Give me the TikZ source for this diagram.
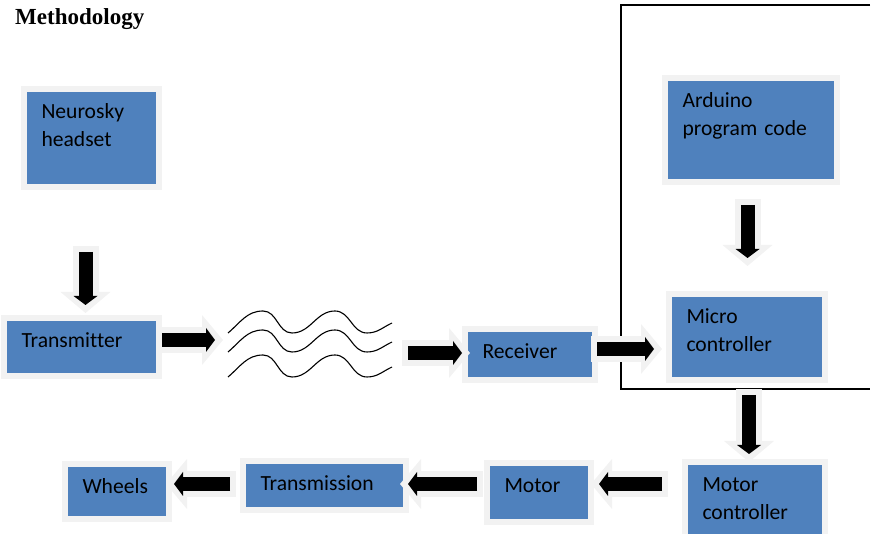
\documentclass[tikz,border=0pt]{standalone}
\usepackage{fontspec}
\setmainfont{Carlito}[Ligatures=CommonOff]
\newfontfamily\headfont{Liberation Serif}
\usetikzlibrary{arrows.meta}

\definecolor{boxblue}{RGB}{79,129,189}
\definecolor{halo}{RGB}{242,242,242}

\tikzset{
  blk/.style={rectangle, fill=boxblue, preaction={draw=halo, line width=12pt},
    anchor=north west, align=left, inner xsep=14.5pt, inner ysep=0pt, outer sep=0pt,
    text height=27pt, font=\fontsize{21.6}{27.5}\selectfont},
  fat/.style={draw=black, line width=14pt, -{Triangle[length=9pt,width=24pt,line width=0pt]},
    preaction={draw=halo, line width=26pt, -{Triangle[length=21pt,width=50pt,line width=0pt]},
      shorten >=-8pt, shorten <=-6pt}},
  wave/.style={draw=black, line width=1.1pt},
  pane/.style={draw=black, line width=1.2pt},
}

\begin{document}
\begin{tikzpicture}[x=1pt,y=1pt]
\path[use as bounding box] (0,0) rectangle (872,534);

\node[anchor=base west, inner sep=0pt, font=\headfont\bfseries\fontsize{23}{27}\selectfont] (title) at (15,509) {Methodology};

% board side, open to the right
\draw[pane] (870,529) -- (621,529) -- (621,145) -- (870,145);

% blocks
\node[blk, text width=100pt, text depth=65pt] (head) at (27,442) {Neurosky\\headset};
\node[blk, text width=120pt, text depth=25pt] (tx) at (7,213) {Transmitter};
\node[blk, text width=95pt, text depth=18pt] (rx) at (468,202) {Receiver};
\node[blk, text width=137pt, text depth=71pt] (ard) at (668,453) {Arduino\\program code};
\node[blk, text width=121pt, text depth=53pt] (mcu) at (672,237) {Micro\\controller};
\node[blk, text width=105pt, text depth=48pt] (mctl) at (688,69) {Motor\\controller};
\node[blk, text width=69pt, text depth=26pt] (motor) at (490,68) {Motor};
\node[blk, text width=128pt, text depth=16pt] (trans) at (246,70) {Transmission};
\node[blk, text width=69pt, text depth=22pt] (wheels) at (68,67) {Wheels};

% radio link
\coordinate (airW) at (215,194);
\coordinate (airE) at (408,181);
\foreach \dy in {0,-19,-44}
  \draw[wave, yshift=\dy pt] (228,201) to[out=40,in=180] (263,223) to[out=0,in=180] (292,201)
    to[out=0,in=180] (335,223) to[out=0,in=180] (367,201) to[out=0,in=205] (392,211);

% block arrows
\draw[fat] ([xshift=-6pt,yshift=-68pt]head.south) -- ([xshift=4pt,yshift=16pt]tx.north);
\draw[fat] ([xshift=-3.5pt,yshift=-26pt]ard.south) -- ([xshift=.5pt,yshift=39pt]mcu.north);
\draw[fat] ([xshift=2pt,yshift=-18pt]mcu.south) -- ([xshift=-6pt,yshift=11pt]mctl.north);
\draw[fat] ([xshift=6pt,yshift=7pt]tx.east) -- (airW);
\draw[fat] (airE) -- ([xshift=-6pt,yshift=1.5pt]rx.west);
\draw[fat] ([xshift=5pt,yshift=5.5pt]rx.east) -- ([xshift=-18pt,yshift=-12pt]mcu.west);
\draw[fat] ([xshift=-26pt,yshift=18.5pt]mctl.west) -- ([xshift=11pt,yshift=8.5pt]motor.east);
\draw[fat] ([xshift=-13pt,yshift=8.5pt]motor.west) -- ([xshift=5pt,yshift=1.5pt]trans.east);
\draw[fat] ([xshift=-16pt,yshift=1.5pt]trans.west) -- ([xshift=8pt,yshift=7.5pt]wheels.east);
\end{tikzpicture}
\end{document}
